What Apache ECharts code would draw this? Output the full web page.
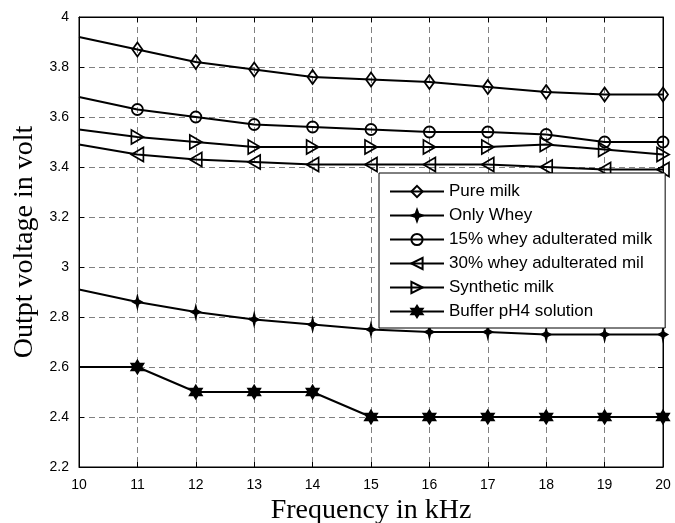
<!DOCTYPE html>
<html>
<head>
<meta charset="utf-8">
<script src="https://cdn.jsdelivr.net/npm/echarts@6/dist/echarts.min.js"></script>
<style>
  html, body { margin: 0; padding: 0; background: #fff; }
  #chart { width: 675px; height: 523px; }
</style>
</head>
<body>
<div id="chart"></div>
<script>
// frequency (kHz)
const freqs = [10, 11, 12, 13, 14, 15, 16, 17, 18, 19, 20];

const pureMilk = [3.92, 3.87, 3.82, 3.79, 3.76, 3.75, 3.74, 3.72, 3.70, 3.69, 3.69];
const onlyWhey = [2.91, 2.86, 2.82, 2.79, 2.77, 2.75, 2.74, 2.74, 2.73, 2.73, 2.73];
const whey15 = [3.68, 3.63, 3.60, 3.57, 3.56, 3.55, 3.54, 3.54, 3.53, 3.50, 3.50];
const whey30 = [3.49, 3.45, 3.43, 3.42, 3.41, 3.41, 3.41, 3.41, 3.40, 3.39, 3.39];
const synthetic = [3.55, 3.52, 3.50, 3.48, 3.48, 3.48, 3.48, 3.48, 3.49, 3.47, 3.45];
const buffer = [2.60, 2.60, 2.50, 2.50, 2.50, 2.40, 2.40, 2.40, 2.40, 2.40, 2.40];

const seriesNames = [
    'Pure milk',
    'Only Whey',
    '15% whey adulterated milk',
    '30% whey adulterated mil',
    'Synthetic milk',
    'Buffer pH4 solution'
];

const yTicks = { min: 2.2, max: 4, step: 0.2 };

// marker shapes
const starPath = 'path://M0,-6 L1.6,-1.6 L6,0 L1.6,1.6 L0,6 L-1.6,1.6 L-6,0 L-1.6,-1.6 Z';
const hexPath = 'path://M0,-6 L1.73,-3 L5.2,-3 L3.46,0 L5.2,3 L1.73,3 L0,6 L-1.73,3 L-5.2,3 L-3.46,0 L-5.2,-3 L-1.73,-3 Z';
const leftTri = 'path://M0,5 L10,0 L10,10 Z';
const rightTri = 'path://M10,5 L0,0 L0,10 Z';

function makeSeries(name, values, symbol, size, filled) {
    return {
        name: name,
        type: 'line',
        data: values.map((v, i) => {
            // no marker drawn at the first point
            if (i === 0) return { value: [freqs[i], v], symbol: 'none' };
            return [freqs[i], v];
        }),
        symbol: symbol,
        symbolSize: size,
        showAllSymbol: true,
        lineStyle: { color: '#000', width: 2 },
        itemStyle: {
            color: filled ? '#000' : 'rgba(0,0,0,0)',
            borderColor: '#000',
            borderWidth: 1.8
        },
        emphasis: { disabled: true },
        animation: false,
        z: 3
    };
}

const chart = echarts.init(document.getElementById('chart'));

const option = {
    backgroundColor: '#fff',
    animation: false,
    grid: {
        left: 79, top: 17, right: 12, bottom: 56,
        outerBoundsMode: 'none',
        containLabel: false,
        show: true, borderColor: '#000', borderWidth: 1
    },
    legend: {
        orient: 'vertical',
        left: 379,
        top: 173,
        data: seriesNames,
        itemWidth: 54,
        itemHeight: 14,
        itemGap: 7,
        padding: [10, 13, 8, 10],
        backgroundColor: '#fff',
        borderColor: '#000',
        borderWidth: 1,
        borderRadius: 0,
        textStyle: { fontFamily: 'Liberation Sans, Arial', fontSize: 17, color: '#000' },
        selectedMode: false
    },
    xAxis: [{
        type: 'value',
        min: 10, max: 20, interval: 1,
        name: 'Frequency in kHz',
        nameLocation: 'middle',
        nameGap: 29,
        nameTextStyle: { fontFamily: 'Liberation Serif, Times New Roman', fontSize: 28, color: '#000' },
        axisLine: { show: true, lineStyle: { color: '#000' } },
        axisTick: { show: true, inside: true, length: 5, lineStyle: { color: '#000' } },
        axisLabel: { fontFamily: 'Liberation Sans, Arial', fontSize: 14, color: '#000', margin: 11 },
        splitLine: { show: true, lineStyle: { color: '#808080', type: [6, 4], width: 1 } }
    }, {
        type: 'value',
        position: 'top',
        min: 10, max: 20, interval: 1,
        axisLine: { show: true, lineStyle: { color: '#000' } },
        axisTick: { show: true, inside: true, length: 5, lineStyle: { color: '#000' } },
        axisLabel: { show: false },
        splitLine: { show: false }
    }],
    yAxis: [{
        type: 'value',
        min: yTicks.min, max: yTicks.max, interval: yTicks.step,
        name: 'Outpt voltage in volt',
        nameLocation: 'middle',
        nameGap: 40,
        nameRotate: 90,
        nameTextStyle: { fontFamily: 'Liberation Serif, Times New Roman', fontSize: 28, color: '#000' },
        axisLine: { show: true, lineStyle: { color: '#000' } },
        axisTick: { show: true, inside: true, length: 5, lineStyle: { color: '#000' } },
        axisLabel: { fontFamily: 'Liberation Sans, Arial', fontSize: 14, color: '#000', margin: 10 },
        splitLine: { show: true, lineStyle: { color: '#808080', type: [6, 4], width: 1 } }
    }, {
        type: 'value',
        position: 'right',
        min: yTicks.min, max: yTicks.max, interval: yTicks.step,
        axisLine: { show: true, lineStyle: { color: '#000' } },
        axisTick: { show: true, inside: true, length: 5, lineStyle: { color: '#000' } },
        axisLabel: { show: false },
        splitLine: { show: false }
    }],
    series: [
        makeSeries(seriesNames[0], pureMilk, 'diamond', [10, 14], false),
        makeSeries(seriesNames[1], onlyWhey, starPath, [8, 12], true),
        makeSeries(seriesNames[2], whey15, 'circle', 11, false),
        makeSeries(seriesNames[3], whey30, leftTri, [12, 14], false),
        makeSeries(seriesNames[4], synthetic, rightTri, [12, 14], false),
        makeSeries(seriesNames[5], buffer, hexPath, [12, 13], true)
    ]
};

chart.setOption(option);
</script>
</body>
</html>
